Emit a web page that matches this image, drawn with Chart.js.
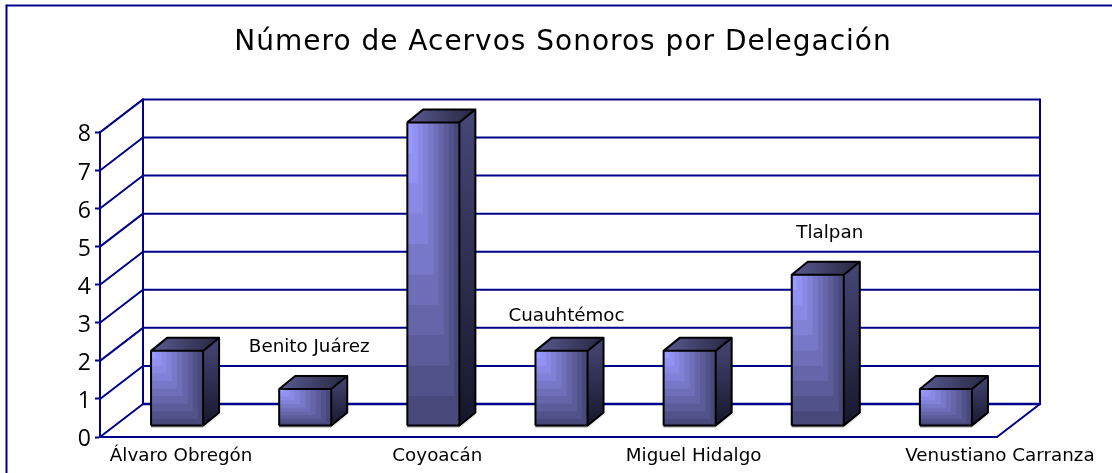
<!DOCTYPE html>
<html><head><meta charset="utf-8">
<style>html,body{margin:0;padding:0;background:#fff}#w{width:1112px;height:473px;position:relative}</style>
<script src="https://cdn.jsdelivr.net/npm/chart.js@4"></script></head>
<body><div id="w"><canvas id="c" width="1112" height="473"></canvas></div>
<script>
const titleText = 'Número de Acervos Sonoros por Delegación';
const categories = ['Álvaro Obregón','Benito Juárez','Coyoacán','Cuauhtémoc','Miguel Hidalgo','Tlalpan','Venustiano Carranza'];
const values = [2,1,8,2,2,4,1];
const yTicks = [0,1,2,3,4,5,6,7,8];

const NAVY = '#000088', LABEL_FONT = '"DejaVu Sans", sans-serif', TICK_FONT = '"Open Sans", sans-serif';
const WALL = {dx:43, dy:-33}, BAR = {dx:13, dy:-10}, DEPTH = {dx:16, dy:-13};
// label placement: [dx from the category centre, anchor ('axis' | 'bar'), dy]
const labelPlacement = [[17,'axis',19],[17,'bar',-52],[17,'axis',19],[18,'bar',-45],[17,'axis',19],[25,'bar',-51],[67,'axis',19]];

function line(ctx,x0,y0,x1,y1,w,col){ctx.beginPath();ctx.moveTo(x0,y0);ctx.lineTo(x1,y1);ctx.lineWidth=w;ctx.strokeStyle=col||NAVY;ctx.stroke();}
function mix(a,b,t){return 'rgb('+a.map((v,i)=>Math.round(v+(b[i]-v)*t)).join(',')+')';}
function poly(ctx,p){ctx.beginPath();p.forEach((q,i)=>i?ctx.lineTo(q[0],q[1]):ctx.moveTo(q[0],q[1]));ctx.closePath();}

const chart3d = {
  id:'chart3d',
  beforeDatasetsDraw(chart){
    const ctx=chart.ctx,{x,y}=chart.scales,a=chart.chartArea;
    ctx.save();ctx.lineCap='round';
    // outer frame (left and top only)
    line(ctx,6.5,473,6.5,5.5,2);line(ctx,6.5,5.5,1112,5.5,2);
    // walls and floor
    const bx0=a.left+WALL.dx,bx1=a.right+WALL.dx;
    yTicks.forEach(v=>{
      const p=y.getPixelForValue(v);
      line(ctx,a.left,p,bx0,p+WALL.dy,2);
      line(ctx,bx0,p+WALL.dy,bx1,p+WALL.dy,v===0?2.4:2);
    });
    line(ctx,bx0,y.getPixelForValue(0)+WALL.dy,bx0,y.getPixelForValue(8)+WALL.dy,2);
    line(ctx,bx1,y.getPixelForValue(0)+WALL.dy,bx1,y.getPixelForValue(8)+WALL.dy,2);
    line(ctx,a.right,a.bottom,bx1,a.bottom+WALL.dy,2);
    ctx.restore();
    ctx.save();ctx.translate(BAR.dx,BAR.dy);
  },
  afterDatasetsDraw(chart){
    const ctx=chart.ctx;ctx.restore();
    const meta=chart.getDatasetMeta(0),{x,y}=chart.scales;
    meta.data.forEach((el,i)=>{
      const x0=el.x-el.width/2+BAR.dx,x1=el.x+el.width/2+BAR.dx,yt=el.y+BAR.dy,yb=el.base+BAR.dy,dx=DEPTH.dx,dy=DEPTH.dy;
      ctx.save();
      // side
      const gs=ctx.createLinearGradient(x1,yt+dy,x1+dx*0.4,yb);
      gs.addColorStop(0,'#474778');gs.addColorStop(1,'#16162a');
      poly(ctx,[[x1,yt],[x1+dx,yt+dy],[x1+dx,yb+dy],[x1,yb]]);ctx.fillStyle=gs;ctx.fill();
      // top
      const gt=ctx.createLinearGradient(x0,0,x1+dx,0);
      gt.addColorStop(0,'#5a5a94');gt.addColorStop(1,'#26263f');
      poly(ctx,[[x0,yt],[x1,yt],[x1+dx,yt+dy],[x0+dx,yt+dy]]);ctx.fillStyle=gt;ctx.fill();
      // front: stepped bands nested around the top-left corner
      const N=10,w=x1-x0,h=yb-yt;
      for(let k=N-1;k>=0;k--){
        ctx.fillStyle=mix([153,153,255],[72,72,122],Math.pow(k/(N-1),1.1));
        ctx.fillRect(x0,yt,w*(k+1)/N,h*(k+1)/N);
      }
      // edges: light rim under a black outline
      ctx.lineJoin='round';
      line(ctx,x1+1,yb+0.5,x1+dx+1,yb+dy+0.5,1.5,'#e8e8e8');
      line(ctx,x0,yb+0.5,x1,yb+0.5,1.5,'#b8b8b8');
      ctx.strokeStyle='#000';ctx.lineWidth=2;
      ctx.beginPath();ctx.moveTo(x0,yb-1);ctx.lineTo(x0,yt);ctx.lineTo(x1,yt);ctx.lineTo(x1,yb-1);
      ctx.lineTo(x0,yb-1);
      ctx.moveTo(x0,yt);ctx.lineTo(x0+dx,yt+dy);ctx.lineTo(x1+dx,yt+dy);ctx.lineTo(x1,yt);
      ctx.moveTo(x1+dx,yt+dy);ctx.lineTo(x1+dx,yb+dy-1);ctx.lineTo(x1,yb-1);
      ctx.stroke();
      ctx.restore();
    });
    // category labels
    ctx.save();ctx.fillStyle='#000';ctx.font='18.3px '+LABEL_FONT;ctx.textAlign='center';ctx.textBaseline='middle';
    categories.forEach((c,i)=>{
      const [dx,anchor,dy]=labelPlacement[i];
      const py=anchor==='axis'?y.getPixelForValue(0):y.getPixelForValue(values[i]);
      ctx.fillText(c,x.getPixelForValue(i)+dx,py+dy);
    });
    // title
    ctx.font='28px '+LABEL_FONT;ctx.letterSpacing='1px';
    ctx.fillText(titleText,563,43);
    ctx.restore();
  }
};

new Chart(document.getElementById('c'),{
  type:'bar',
  data:{labels:categories,datasets:[{data:values,backgroundColor:'#5a5a96',borderWidth:0,clip:false,
    categoryPercentage:1,barPercentage:52/128}]},
  plugins:[chart3d],
  options:{
    responsive:false,animation:false,
    layout:{padding:{top:132.4,right:115,bottom:36,left:0}},
    plugins:{legend:{display:false},tooltip:{enabled:false},title:{display:false}},
    scales:{
      x:{grid:{display:false},border:{display:true,color:NAVY,width:2},ticks:{display:false},
         afterFit(s){s.height=0;}},
      y:{min:0,max:8,
         afterBuildTicks(s){s.ticks=yTicks.map(v=>({value:v}));},
         afterFit(s){s.width=100;},
         grid:{drawOnChartArea:false,drawTicks:true,tickLength:5,tickColor:NAVY,tickWidth:2},
         border:{display:true,color:NAVY,width:2},
         ticks:{color:'#000',padding:4,labelOffset:2.5,font:{family:TICK_FONT,size:23}}}
    }
  }
});
</script></body></html>
